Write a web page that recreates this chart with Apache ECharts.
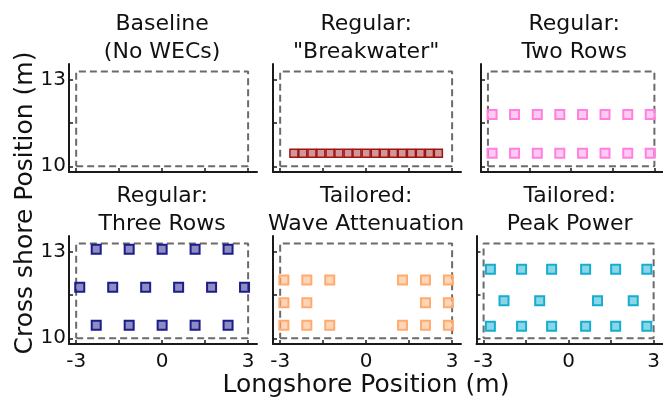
<!DOCTYPE html>
<html>
<head>
<meta charset="utf-8">
<script src="https://cdn.jsdelivr.net/npm/echarts@6/dist/echarts.min.js"></script>
<style>
  html, body { margin: 0; padding: 0; background: #ffffff; }
  #chart { width: 663px; height: 403px; }
</style>
</head>
<body>
<div id="chart"></div>
<script>
// Axis extents and ticks (metres)
const xRange = [-3.25, 3.31];
const yRange = [9.8, 13.56];
const xTicks = [-3, -1.5, 0, 1.5, 3];
const xTickLabels = [-3, 0, 3];
const yTicks = [10, 11.5, 13];
const yTickLabels = [10, 13];

// Wave basin test area outline
const basinX = [-3, 3];
const basinY = [10, 13.3];

const panelTitles = [
  'Baseline\n(No WECs)',
  'Regular:\n"Breakwater"',
  'Regular:\nTwo Rows',
  'Regular:\nThree Rows',
  'Tailored:\nWave Attenuation',
  'Tailored:\nPeak Power'
];

// WEC positions per array layout: longshore x per row, cross-shore y per row
const breakwaterX = [-2.52, -2.21, -1.89, -1.58, -1.26, -0.95, -0.63, -0.32, 0,
                     0.32, 0.63, 0.95, 1.26, 1.58, 1.89, 2.21, 2.52];
const breakwaterY = [10.45];

const twoRowsX = [-2.85, -2.04, -1.22, -0.41, 0.41, 1.22, 2.04, 2.85];
const twoRowsY = [10.45, 11.8];

const threeRowsOuterX = [-2.3, -1.15, 0, 1.15, 2.3];
const threeRowsMiddleX = [-2.875, -1.725, -0.575, 0.575, 1.725, 2.875];
const threeRowsY = [10.45, 11.78, 13.1];

const attenuationOuterX = [-2.87, -2.07, -1.27, 1.27, 2.07, 2.87];
const attenuationMiddleX = [-2.87, -2.07, 2.07, 2.87];
const attenuationY = [10.45, 11.24, 12.03];

const peakOuterX = [-2.76, -1.66, -0.6, 0.6, 1.66, 2.76];
const peakMiddleX = [-2.28, -1.02, 1.02, 2.28];
const peakY = [10.42, 11.31, 12.4];

// Each layout as a list of [row x positions, row y]
const layouts = [
  [],
  [[breakwaterX, breakwaterY[0]]],
  [[twoRowsX, twoRowsY[0]], [twoRowsX, twoRowsY[1]]],
  [[threeRowsOuterX, threeRowsY[0]], [threeRowsMiddleX, threeRowsY[1]], [threeRowsOuterX, threeRowsY[2]]],
  [[attenuationOuterX, attenuationY[0]], [attenuationMiddleX, attenuationY[1]], [attenuationOuterX, attenuationY[2]]],
  [[peakOuterX, peakY[0]], [peakMiddleX, peakY[1]], [peakOuterX, peakY[2]]]
];

const markerStyles = [
  null,
  { border: '#9e1414', fill: 'rgba(158,20,20,0.45)', size: 8, width: 1.5 },
  { border: '#ff80df', fill: 'rgba(255,128,223,0.42)', size: 9, width: 2 },
  { border: '#1c1c8a', fill: 'rgba(28,28,138,0.5)', size: 9, width: 2 },
  { border: '#ffab70', fill: 'rgba(255,171,112,0.5)', size: 9, width: 2 },
  { border: '#16aed0', fill: 'rgba(22,174,208,0.5)', size: 9, width: 2 }
];

const FONT = 'DejaVu Sans';
const plotW = 188;
const plotH = 108;
const boxes = [
  { left: 69, top: 64 }, { left: 273, top: 64 }, { left: 481, top: 64 },
  { left: 69, top: 236 }, { left: 273, top: 236 }, { left: 476.5, top: 236 }
];

const grids = [], xAxes = [], yAxes = [], series = [], graphics = [];

boxes.forEach((b, i) => {
  const bottomRow = i >= 3;
  const firstCol = i % 3 === 0;
  grids.push({ left: b.left, top: b.top, width: plotW, height: plotH, containLabel: false });

  xAxes.push({
    type: 'value', gridIndex: i, min: xRange[0], max: xRange[1],
    splitLine: { show: false },
    axisLine: { onZero: false, lineStyle: { color: '#1a1a1a', width: 2 } },
    axisTick: { inside: true, length: 4, customValues: xTicks, lineStyle: { color: '#1a1a1a', width: 1.5 } },
    axisLabel: {
      show: bottomRow, customValues: xTickLabels, margin: 8,
      fontFamily: FONT, fontSize: 20, color: '#111',
      formatter: v => String(v)
    }
  });

  yAxes.push({
    type: 'value', gridIndex: i, min: yRange[0], max: yRange[1],
    splitLine: { show: false },
    axisLine: { onZero: false, lineStyle: { color: '#1a1a1a', width: 2 } },
    axisTick: { inside: true, length: 4, customValues: yTicks, lineStyle: { color: '#1a1a1a', width: 1.5 } },
    axisLabel: {
      show: firstCol, customValues: yTickLabels, margin: 3,
      fontFamily: FONT, fontSize: 20, color: '#111',
      formatter: v => String(v)
    }
  });

  // dashed outline of the test area
  const outline = [
    [basinX[0], basinY[0]], [basinX[1], basinY[0]], [basinX[1], basinY[1]],
    [basinX[0], basinY[1]], [basinX[0], basinY[0]]
  ];
  series.push({
    type: 'line', xAxisIndex: i, yAxisIndex: i, data: outline,
    symbol: 'none', silent: true, animation: false, z: 1,
    lineStyle: { color: '#6b6b6b', width: 2, type: [7, 4] }
  });

  const st = markerStyles[i];
  if (st) {
    const pts = [];
    layouts[i].forEach(([xs, y]) => xs.forEach(x => pts.push([x, y])));
    series.push({
      type: 'scatter', xAxisIndex: i, yAxisIndex: i, data: pts,
      symbol: 'rect', symbolSize: st.size, animation: false, z: 3,
      itemStyle: { color: st.fill, borderColor: st.border, borderWidth: st.width, opacity: 1 }
    });
  }

  // panel title centred over x = 0
  const cx = b.left + plotW * (0 - xRange[0]) / (xRange[1] - xRange[0]);
  graphics.push({
    type: 'text', x: cx, y: b.top - 54,
    style: {
      text: panelTitles[i], align: 'center', verticalAlign: 'top',
      fontFamily: FONT, fontSize: 22, lineHeight: 28, fill: '#111'
    }
  });
});

graphics.push({
  type: 'text', x: 366, y: 385,
  style: { text: 'Longshore Position (m)', align: 'center', verticalAlign: 'middle',
           fontFamily: FONT, fontSize: 25, fill: '#111' }
});
graphics.push({
  type: 'text', x: 25, y: 203, rotation: Math.PI / 2,
  style: { text: 'Cross shore Position (m)', align: 'center', verticalAlign: 'middle',
           fontFamily: FONT, fontSize: 25, fill: '#111' }
});

const chart = echarts.init(document.getElementById('chart'), null, { renderer: 'canvas' });
chart.setOption({
  backgroundColor: '#ffffff',
  animation: false,
  grid: grids,
  xAxis: xAxes,
  yAxis: yAxes,
  series: series,
  graphic: graphics
});
</script>
</body>
</html>
